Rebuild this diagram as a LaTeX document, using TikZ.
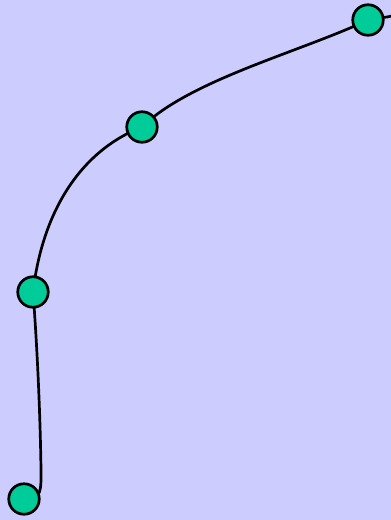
\documentclass[tikz,border=0pt]{standalone}
\definecolor{bg}{HTML}{CCCCFF}
\definecolor{dot}{HTML}{00CC99}
\begin{document}
\begin{tikzpicture}[x=1pt,y=-1pt,
  pt/.style={circle,draw=black,fill=dot,line width=2.7pt,minimum size=30.5pt,inner sep=0pt},
  link/.style={draw=black,line width=2.7pt}]
\fill[bg] (0,0) rectangle (391,520);
\useasboundingbox (0,0) rectangle (391,520);
\coordinate (h) at (41,470);
\coordinate (e) at (392,16);
\coordinate (a) at (24,499);
\coordinate (b) at (33,292);
\coordinate (c) at (142,127);
\coordinate (d) at (368,20);
\path[link] (a) .. controls (42,500) and (41,490) .. (h)
  .. controls (40,400) and (36,330) .. (b)
  .. controls (42,215) and (78,152) .. (c)
  .. controls (190,80) and (300,52) .. (d)
  .. controls (378,17) and (385,18) .. (e);
\node[pt] (na) at (a) {};
\node[pt] (nb) at (b) {};
\node[pt] (nc) at (c) {};
\node[pt] (nd) at (d) {};
\end{tikzpicture}
\end{document}
